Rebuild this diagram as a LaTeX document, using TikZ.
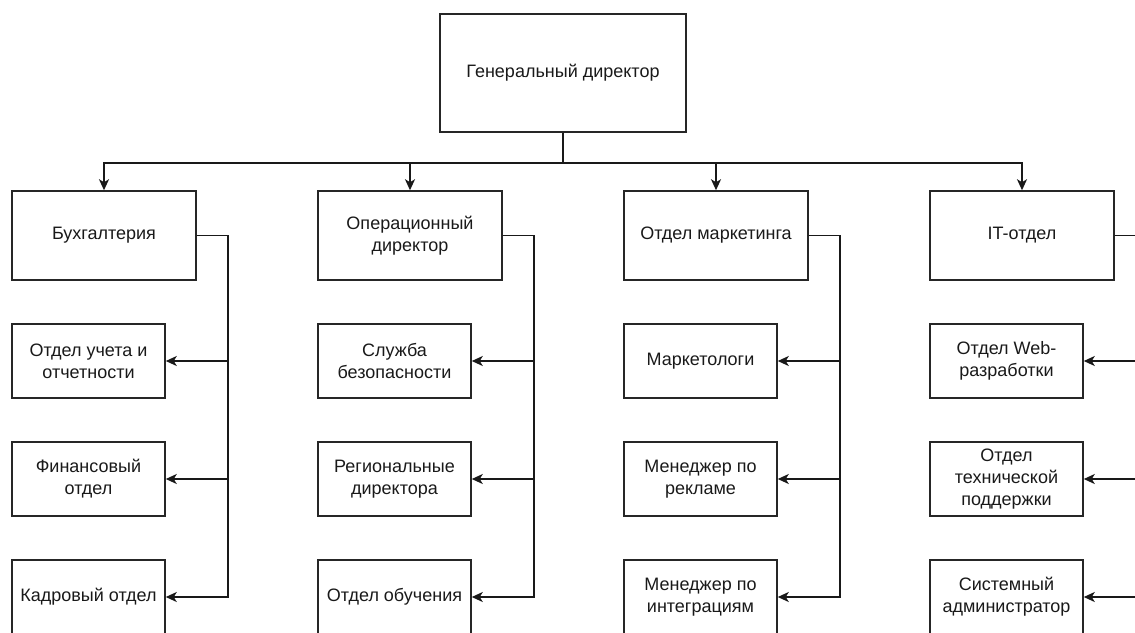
\documentclass[tikz,border=0pt]{standalone}
\usepackage{fontspec}
\setmainfont{Liberation Sans}
\usetikzlibrary{arrows.meta}
\begin{document}
\begin{tikzpicture}[x=1pt,y=-1pt,
  box/.style={draw=black!85, line width=1.5pt, rectangle, inner sep=0pt, align=center,
    text=black!90, font=\fontsize{18}{22}\selectfont},
  topbox/.style={box, minimum width=246pt, minimum height=118pt},
  deptbox/.style={box, minimum width=184pt, minimum height=89pt},
  unitbox/.style={box, minimum width=153pt, minimum height=74pt},
  link/.style={draw=black!90, line width=1.7pt,
    -{Stealth[length=11pt,width=10pt,inset=3pt]}}]
\useasboundingbox (0,0) rectangle (1135,632);
\clip (0,0) rectangle (1135,632);

% head of the company
\node[topbox] (gd) at (563,73) {Генеральный директор};

% departments
\node[deptbox] (d1) at (104,235.5) {Бухгалтерия};
\node[deptbox] (d2) at (410,235.5) {Операционный\\директор};
\node[deptbox] (d3) at (716,235.5) {Отдел маркетинга};
\node[deptbox] (d4) at (1022,235.5) {IT-отдел};

% units of each department
\node[unitbox] (u11) at (88.5,361) {Отдел учета и\\отчетности};
\node[unitbox] (u12) at (88.5,479) {Финансовый\\отдел};
\node[unitbox] (u13) at (88.5,597) {Кадровый отдел};

\node[unitbox] (u21) at (394.5,361) {Служба\\безопасности};
\node[unitbox] (u22) at (394.5,479) {Региональные\\директора};
\node[unitbox] (u23) at (394.5,597) {Отдел обучения};

\node[unitbox] (u31) at (700.5,361) {Маркетологи};
\node[unitbox] (u32) at (700.5,479) {Менеджер по\\рекламе};
\node[unitbox] (u33) at (700.5,597) {Менеджер по\\интеграциям};

\node[unitbox] (u41) at (1006.5,361) {Отдел Web-\\разработки};
\node[unitbox] (u42) at (1006.5,479) {Отдел\\технической\\поддержки};
\node[unitbox] (u43) at (1006.5,597) {Системный\\администратор};

% director to departments
\foreach \d in {d1,d2,d3,d4}
  \draw[link] (gd.south) -- ++(0,30) -| (\d.north);

% departments to their units
\foreach \d in {1,2,3,4}
  \foreach \u in {1,2,3}
    \draw[link] (d\d.east) -- ++(31,0) |- (u\d\u.east);
\end{tikzpicture}
\end{document}
